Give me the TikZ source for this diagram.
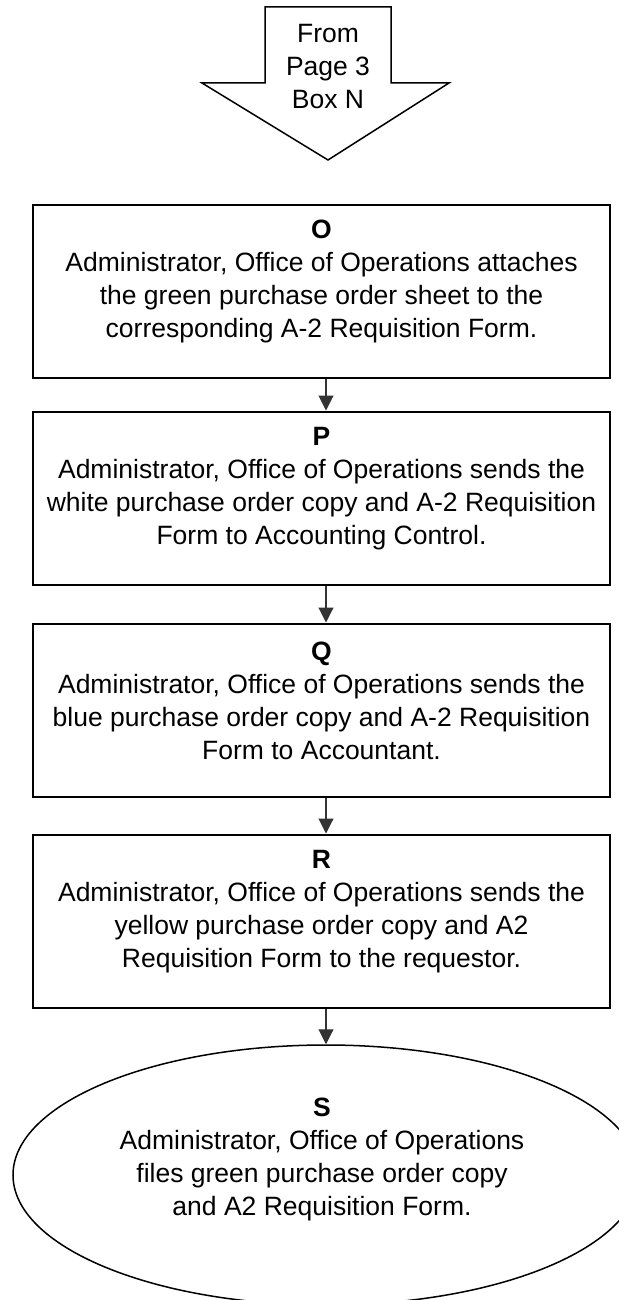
\documentclass[tikz,border=0pt]{standalone}
\usepackage{fontspec}
\setmainfont{Liberation Sans}
\usetikzlibrary{arrows.meta,shapes.geometric}
\tikzset{
  boxst/.style={draw=black, line width=1pt, minimum width=288.5pt, minimum height=86.5pt, inner sep=0pt},
  txt/.style={align=center, inner sep=0pt, font=\fontsize{13.25}{16.5}\selectfont},
  conn/.style={draw=black!80, line width=0.55pt, -{Triangle[length=7.5pt,width=7.5pt]}},
  endst/.style={draw=black, line width=0.75pt, ellipse, minimum width=313pt, minimum height=130pt, inner sep=0pt},
  fromst/.style={draw=black, line width=0.75pt, line join=miter}
}
\begin{document}
\begin{tikzpicture}[x=0.5pt,y=-0.5pt]
\useasboundingbox (0,0) rectangle (619,1300);
% off-page connector
\draw[fromst] (265,7) -- (391,7) -- (391,83) -- (449,83) -- (328,160) -- (202,83) -- (265,83) -- cycle;
\node[txt] (from) at (328,67) {From\\Page 3\\Box N};
% boxes
\node[boxst] (O) at (321.5,291.5) {};
\node[txt] (Ot) at (321.5,281) {\textbf{O}\\Administrator, Office of Operations attaches\\the green purchase order sheet to the\\corresponding A-2 Requisition Form.};
\node[boxst] (P) at (321.5,498) {};
\node[txt] (Pt) at (321.5,489) {\textbf{P}\\Administrator, Office of Operations sends the\\white purchase order copy and A-2 Requisition\\Form to Accounting Control.};
\node[boxst] (Q) at (321.5,710) {};
\node[txt] (Qt) at (321.5,701) {\textbf{Q}\\Administrator, Office of Operations sends the\\blue purchase order copy and A-2 Requisition\\Form to Accountant.};
\node[boxst] (R) at (321.5,921) {};
\node[txt] (Rt) at (321.5,912) {\textbf{R}\\Administrator, Office of Operations sends the\\yellow purchase order copy and A2\\Requisition Form to the requestor.};
\node[endst] (S) at (326,1175) {};
\node[txt] (St) at (322,1159) {\textbf{S}\\Administrator, Office of Operations\\files green purchase order copy\\and A2 Requisition Form.};
% connectors
\coordinate (ax) at (326,0);
\draw[conn] (O.south -| ax) -- (P.north -| ax);
\draw[conn] (P.south -| ax) -- (Q.north -| ax);
\draw[conn] (Q.south -| ax) -- (R.north -| ax);
\draw[conn] (R.south -| ax) -- (S.north);
\end{tikzpicture}
\end{document}
